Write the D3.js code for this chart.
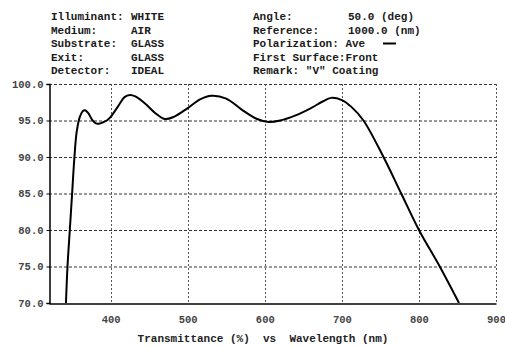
<!DOCTYPE html>
<html>
<head>
<meta charset="utf-8">
<script src="https://cdn.jsdelivr.net/npm/d3@7"></script>
<style>
  body { margin: 0; background: #fff; }
  svg { display: block; }
  text { font-family: "Liberation Mono", "DejaVu Sans Mono", monospace; white-space: pre; }
</style>
</head>
<body>
<svg id="chart" width="505" height="346"></svg>
<script>
// header block
const headerLeftKeys = ["Illuminant:", "Medium:", "Substrate:", "Exit:", "Detector:"];
const headerLeftVals = ["WHITE", "AIR", "GLASS", "GLASS", "IDEAL"];
const headerRightKeys = ["Angle:", "Reference:", "Polarization: Ave", "First Surface:Front", "Remark: \"V\" Coating"];
const headerRightVals = ["50.0 (deg)", "1000.0 (nm)", "", "", ""];

// axes
const xTicks = [400, 500, 600, 700, 800, 900];
const yTicks = [70, 75, 80, 85, 90, 95, 100];
const xTitle = "Transmittance (%)  vs  Wavelength (nm)";

// transmittance curve
const wavelength = [342, 344, 347, 350, 353, 356, 360, 364, 367, 371, 376, 381, 386, 391, 395, 400,
  410, 418, 425, 432, 445, 458, 470, 482, 500, 516, 531, 550, 570, 590, 605, 620, 640, 660, 675, 686, 700,
  712, 728, 754, 777, 800, 827, 852];
const transmittance = [70, 75, 80, 85, 90, 93.5, 95.5, 96.3, 96.4, 96, 95.1, 94.6, 94.6, 94.8, 95.0, 95.5,
  97.0, 98.2, 98.5, 98.3, 97.3, 96.0, 95.2, 95.5, 96.7, 97.9, 98.4, 98.0, 96.5, 95.2, 94.8, 95, 95.7, 96.7, 97.6, 98.1, 97.8,
  96.9, 95, 90, 85, 80, 75, 70];

const svg = d3.select("#chart");
const margin = { left: 49, top: 84, right: 496, bottom: 303 };

const x = d3.scaleLinear().domain([320, 900]).range([margin.left, margin.right]);
const y = d3.scaleLinear().domain([70, 100]).range([margin.bottom, margin.top]);

// header text
const hdr = svg.append("g").attr("font-size", 11).attr("font-weight", "bold").attr("fill", "#1a1a1a");
headerLeftKeys.forEach((k, i) => {
  const by = 20 + i * 13.6;
  hdr.append("text").attr("x", 51).attr("y", by).text(k);
  hdr.append("text").attr("x", 131).attr("y", by).text(headerLeftVals[i]);
  hdr.append("text").attr("x", 253).attr("y", by).text(headerRightKeys[i]);
  if (headerRightVals[i]) hdr.append("text").attr("x", 348).attr("y", by).text(headerRightVals[i]);
});
// legend swatch next to "Ave"
svg.append("line")
  .attr("x1", 383).attr("x2", 396)
  .attr("y1", 43.5).attr("y2", 43.5)
  .attr("stroke", "#000").attr("stroke-width", 2);

// grid
const grid = svg.append("g");
grid.selectAll("line.h")
  .data(yTicks.filter(d => d > 70))
  .join("line")
  .attr("class", "h")
  .attr("x1", margin.left).attr("x2", margin.right)
  .attr("y1", d => y(d) + 0.5).attr("y2", d => y(d) + 0.5)
  .attr("stroke", "#333").attr("stroke-dasharray", "3,2");
grid.selectAll("line.v")
  .data(xTicks)
  .join("line")
  .attr("class", "v")
  .attr("x1", d => Math.round(x(d)) + 0.5).attr("x2", d => Math.round(x(d)) + 0.5)
  .attr("y1", margin.top).attr("y2", margin.bottom)
  .attr("stroke", "#555").attr("stroke-dasharray", "2,2");

// axes
const xAxis = d3.axisBottom(x).tickValues(xTicks).tickSize(0).tickPadding(12).tickFormat(d3.format("d"));
const yAxis = d3.axisLeft(y).tickValues(yTicks).tickSize(3).tickPadding(3).tickFormat(d3.format(".1f"));

const gx = svg.append("g")
  .attr("transform", `translate(0,${margin.bottom + 0.5})`)
  .call(xAxis);
gx.select(".domain").attr("stroke", "#000").attr("stroke-width", 1.5);

const gy = svg.append("g")
  .attr("transform", `translate(${margin.left + 0.5},0)`)
  .call(yAxis);
gy.select(".domain").attr("stroke", "#000").attr("stroke-width", 1.5);

svg.selectAll(".tick text")
  .attr("font-family", "Liberation Mono, monospace")
  .attr("font-size", 10.5)
  .attr("font-weight", "bold")
  .attr("fill", "#444");
svg.selectAll(".tick line").attr("stroke", "#000");

svg.append("text")
  .attr("x", 263).attr("y", 342)
  .attr("text-anchor", "middle")
  .attr("font-size", 11).attr("font-weight", "bold").attr("fill", "#222")
  .text(xTitle);

// curve
svg.append("clipPath").attr("id", "plot-area")
  .append("rect")
  .attr("x", margin.left).attr("y", margin.top)
  .attr("width", margin.right - margin.left).attr("height", margin.bottom - margin.top);

const line = d3.line()
  .x((d, i) => x(wavelength[i]))
  .y(d => y(d))
  .curve(d3.curveCatmullRom.alpha(0.5));

svg.append("path")
  .datum(transmittance)
  .attr("clip-path", "url(#plot-area)")
  .attr("fill", "none")
  .attr("stroke", "#000")
  .attr("stroke-width", 2)
  .attr("d", line);
</script>
</body>
</html>
